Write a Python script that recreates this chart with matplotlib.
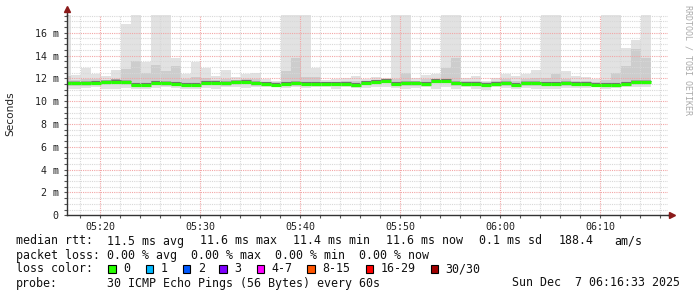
import numpy as np
import matplotlib
matplotlib.use('Agg')
import matplotlib.pyplot as plt
from matplotlib.patches import Rectangle

# smokeping style latency chart, one bar per minute (minutes after 05:00)
minutes = np.arange(16, 75)

median_ms = [11.55, 11.55, 11.55, 11.6, 11.65, 11.72, 11.65, 11.43, 11.45, 11.6,
             11.55, 11.5, 11.43, 11.43, 11.6, 11.6, 11.55, 11.65, 11.7, 11.55,
             11.5, 11.45, 11.5, 11.55, 11.5, 11.5, 11.5, 11.5, 11.5, 11.4,
             11.6, 11.7, 11.75, 11.5, 11.55, 11.55, 11.5, 11.75, 11.75, 11.55,
             11.5, 11.5, 11.43, 11.5, 11.55, 11.45, 11.55, 11.55, 11.5, 11.5,
             11.55, 11.5, 11.5, 11.43, 11.43, 11.45, 11.5, 11.65, 11.65]

smoke_max = [17.6, 12.3, 12.95, 12.4, 12.2, 12.7, 16.8, 17.6, 13.4, 17.6,
             17.6, 13.8, 12.4, 13.45, 12.9, 12.2, 12.7, 12.1, 12.4, 12.5,
             11.9, 11.75, 17.6, 17.6, 17.6, 12.9, 11.85, 11.95, 12.05, 12.2,
             11.9, 12.1, 12.0, 17.6, 17.6, 12.0, 12.3, 12.35, 17.6, 17.6,
             12.0, 12.2, 11.8, 12.05, 12.4, 12.2, 12.35, 12.75, 17.6, 17.6,
             12.6, 12.2, 12.1, 11.9, 17.6, 17.6, 14.7, 15.35, 17.6]

smoke_mid = [12.2, 11.85, 11.95, 11.9, 11.85, 11.95, 12.8, 13.5, 12.5, 13.2,
             12.6, 13.1, 11.9, 12.1, 12.0, 11.85, 11.95, 11.8, 11.9, 11.9,
             11.7, 11.65, 12.65, 13.75, 12.1, 12.1, 11.7, 11.7, 11.8, 11.8,
             11.75, 11.85, 11.85, 11.95, 12.45, 11.8, 11.9, 11.95, 12.95, 13.8,
             11.8, 11.8, 11.65, 11.8, 11.9, 11.8, 11.9, 12.0, 12.05, 12.35,
             11.95, 11.8, 11.8, 11.7, 11.85, 12.45, 13.1, 14.55, 13.75]

smoke_min = [11.05, 11.05, 11.15, 11.2, 11.05, 11.1, 11.15, 11.05, 11.05, 11.15,
             11.2, 11.15, 11.1, 11.05, 11.15, 11.1, 11.2, 11.2, 11.15, 11.2,
             11.2, 11.2, 11.15, 11.2, 11.15, 11.2, 11.2, 11.1, 11.2, 11.15,
             11.15, 11.25, 11.2, 11.15, 11.1, 11.15, 11.2, 11.1, 11.25, 11.1,
             11.2, 11.1, 11.0, 11.2, 11.15, 11.1, 11.15, 11.05, 11.05, 11.1,
             11.15, 11.15, 11.15, 11.2, 11.1, 11.15, 11.2, 11.25, 11.2]

xtick_pos = [20, 30, 40, 50, 60, 70]
xtick_labels = ['05:20', '05:30', '05:40', '05:50', '06:00', '06:10']
ytick_pos = [0, 2, 4, 6, 8, 10, 12, 14, 16]
ytick_labels = ['0', '2 m', '4 m', '6 m', '8 m', '10 m', '12 m', '14 m', '16 m']

loss_labels = ['0', '1', '2', '3', '4-7', '8-15', '16-29', '30/30']
loss_colors = ['#26ff00', '#00b8ff', '#0059ff', '#7e00ff', '#ff00ff', '#ff5500', '#ff0000', '#a00000']

W, H = 697, 297
mono = 'DejaVu Sans Mono'

fig = plt.figure(figsize=(W / 100, H / 100), dpi=100)
ax = fig.add_axes([67 / W, (H - 215.3) / H, 601 / W, 200.3 / H])

med = np.array(median_ms)
lo = np.array(smoke_min)
hi = np.array(smoke_max)
mid = np.array(smoke_mid)
x0 = minutes + 0.1

ax.bar(x0, hi - lo, bottom=lo, width=1.0, align='edge', color='#e2e2e2', lw=0, zorder=1)
ax.bar(x0, mid - (med - 0.2), bottom=med - 0.2, width=1.0, align='edge', color='#cdcdcd', lw=0, zorder=1.1)
ax.bar(x0, 0.3, bottom=med - 0.12, width=1.0, align='edge', color='#a8a8a8', lw=0, zorder=1.2)
ax.hlines(med + 0.16, x0, x0 + 1, colors='#707070', lw=0.8, zorder=1.3)

# grid on top of the smoke
for v in np.arange(0, 17.6, 0.5):
    c = '#f2a5a5' if v % 2 == 0 else '#d8d8d8'
    ax.axhline(v, color=c, lw=0.8, ls=(0, (1, 1)), zorder=2)
for v in range(18, 77, 2):
    c = '#f2a5a5' if v % 10 == 0 else '#d8d8d8'
    ax.axvline(v, color=c, lw=0.8, ls=(0, (1, 1)), zorder=2)

ax.hlines(med, x0, x0 + 1, colors='#26ff00', lw=2.3, zorder=3)

ax.set_xlim(16.7, 76.8)
ax.set_ylim(0, 17.55)
ax.set_xticks(xtick_pos)
ax.set_xticklabels(xtick_labels, family=mono, fontsize=7.2, color='#222222')
ax.set_xticks(range(18, 77, 2), minor=True)
ax.set_yticks(ytick_pos)
ax.set_yticklabels(ytick_labels, family=mono, fontsize=7.2, color='#222222')
ax.set_yticks(np.arange(0, 17.6, 0.5), minor=True)
ax.tick_params(axis='both', which='both', length=2, width=0.8, color='#555555', pad=4)
ax.tick_params(axis='x', which='major', pad=3)

for s in ['top', 'right']:
    ax.spines[s].set_visible(False)
for s in ['left', 'bottom']:
    ax.spines[s].set_color('#333333')
    ax.spines[s].set_linewidth(1.0)
    ax.spines[s].set_zorder(4)

# axis arrows
ax.plot([0, 0], [1, 1.03], transform=ax.transAxes, color='#333333', lw=1.0, clip_on=False)
ax.plot([1, 1.006], [0, 0], transform=ax.transAxes, color='#333333', lw=1.0, clip_on=False)
ax.plot(0, 1.03, marker='^', ms=4, color='#8b1a1a', transform=ax.transAxes, clip_on=False)
ax.plot(1.006, 0, marker='>', ms=4, color='#8b1a1a', transform=ax.transAxes, clip_on=False)

fig.text(10 / W, 1 - 114 / H, 'Seconds', rotation=90, ha='center', va='center',
         fontsize=7.6, color='#222222')
fig.text(688 / W, 1 - 60 / H, 'RRDTOOL / TOBI OETIKER', rotation=270, ha='center', va='center',
         family=mono, fontsize=6, color='#aaaaaa')


def ftext(x, y, s, **kw):
    fig.text(x / W, 1 - y / H, s, family=mono, fontsize=8.4, color='#111111', va='center', **kw)


ftext(16, 241, 'median rtt:')
line1 = [(107.3, '11.5 ms avg'), (200.3, '11.6 ms max'), (293.3, '11.4 ms min'),
         (386.3, '11.6 ms now'), (479.3, '0.1 ms sd'), (558.3, '188.4'), (614.3, 'am/s')]
for px, s in line1:
    ftext(px, 241, s)
ftext(16, 255, 'packet loss: 0.00 % avg  0.00 % max  0.00 % min  0.00 % now')
ftext(16, 269, 'loss color:')
box_x = [108.3, 145.7, 182.7, 219.3, 256.7, 307.3, 365.7, 430.7]
for bx, lab, col in zip(box_x, loss_labels, loss_colors):
    fig.patches.append(Rectangle((bx / W, 1 - 273 / H), 7.5 / W, 8.5 / H, transform=fig.transFigure,
                                 facecolor=col, edgecolor='#000000', lw=0.8))
    ftext(bx + 15, 269, lab)
ftext(16, 283, 'probe:')
ftext(107.3, 283, '30 ICMP Echo Pings (56 Bytes) every 60s')
ftext(680, 283, 'Sun Dec  7 06:16:33 2025', ha='right')

fig.savefig('out.png', dpi=100, facecolor='white')
